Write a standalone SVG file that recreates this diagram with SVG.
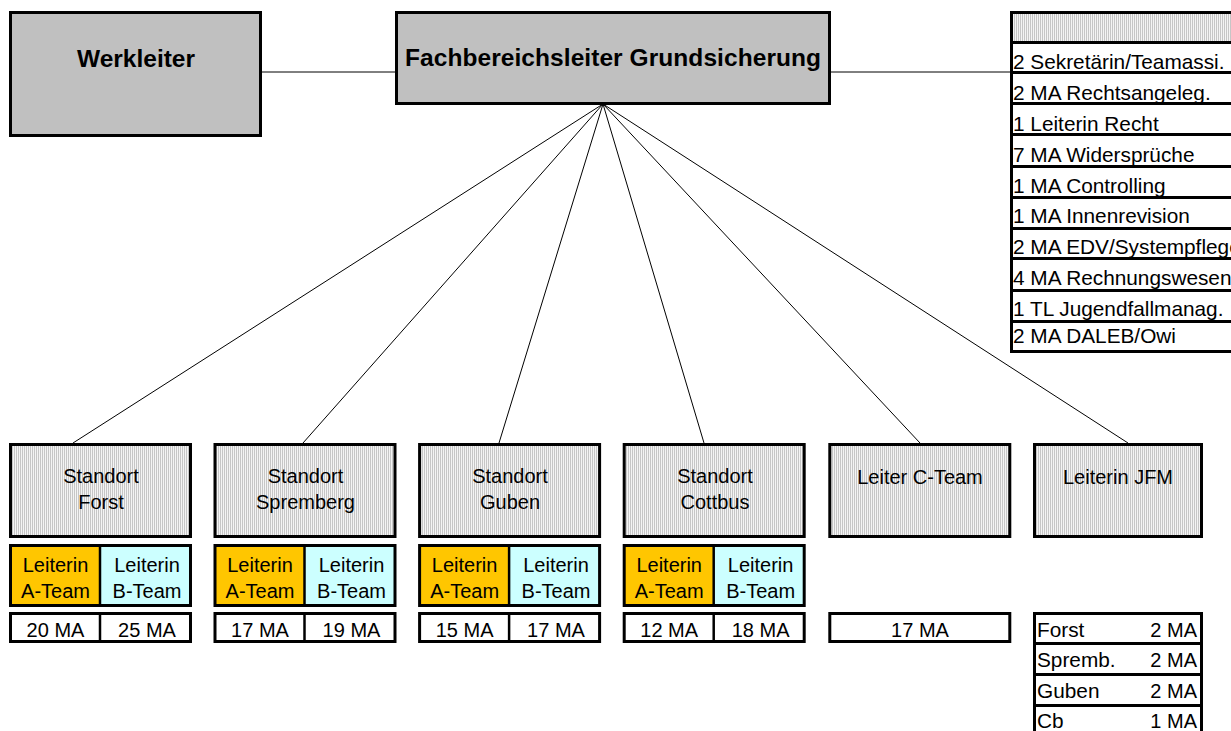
<svg xmlns="http://www.w3.org/2000/svg" width="1231" height="731" viewBox="0 0 1231 731">
<defs>
<pattern id="hatch" width="2" height="2" patternUnits="userSpaceOnUse">
<rect width="2" height="2" fill="#f4f4f4"/>
<rect width="1" height="2" fill="#c6c6c6"/>
</pattern>
<style>
.box{stroke:#000;stroke-width:3;}
.grey{fill:#c0c0c0;}
.hat{fill:url(#hatch);}
.wh{fill:#fff;}
.a{fill:#ffc600;}
.b{fill:#ccffff;}
.div{stroke:#000;stroke-width:2.5;}
.con{stroke:#000;stroke-width:1;fill:none;}
text{font-family:"Liberation Sans",Arial,sans-serif;fill:#000;}
.big{font-size:24.5px;font-weight:bold;text-anchor:middle;}
.m{font-size:20px;text-anchor:middle;}
.l{font-size:20.8px;}
.r{font-size:20px;text-anchor:end;}
</style>
</defs>
<rect width="1231" height="731" fill="#fff"/>

<g id="connectors">
<line class="con" x1="261" y1="72" x2="395" y2="72"/>
<line class="con" x1="830" y1="72" x2="1010" y2="72"/>
<line class="con" x1="603" y1="104" x2="73" y2="443"/>
<line class="con" x1="603" y1="104" x2="303" y2="443"/>
<line class="con" x1="603" y1="104" x2="499" y2="443"/>
<line class="con" x1="603" y1="104" x2="704" y2="443"/>
<line class="con" x1="603" y1="104" x2="920" y2="443"/>
<line class="con" x1="603" y1="104" x2="1128" y2="443"/>
</g>

<g id="werkleiter">
<rect class="box grey" x="10.5" y="12.5" width="250" height="123"/>
<text class="big" x="136" y="67">Werkleiter</text>
</g>

<g id="fachbereichsleiter">
<rect class="box grey" x="396.5" y="12.5" width="433" height="91"/>
<text class="big" x="613" y="66" textLength="416" lengthAdjust="spacing">Fachbereichsleiter Grundsicherung</text>
</g>

<g id="stab">
<rect class="box hat" x="1011.5" y="12.5" width="240" height="30"/>
<rect class="box wh" x="1011.5" y="42.5" width="240" height="30"/>
<rect class="box wh" x="1011.5" y="72.5" width="240" height="31"/>
<rect class="box wh" x="1011.5" y="103.5" width="240" height="31"/>
<rect class="box wh" x="1011.5" y="134.5" width="240" height="32"/>
<rect class="box wh" x="1011.5" y="166.5" width="240" height="31"/>
<rect class="box wh" x="1011.5" y="197.5" width="240" height="31"/>
<rect class="box wh" x="1011.5" y="228.5" width="240" height="30"/>
<rect class="box wh" x="1011.5" y="258.5" width="240" height="32"/>
<rect class="box wh" x="1011.5" y="290.5" width="240" height="31"/>
<rect class="box wh" x="1011.5" y="321.5" width="240" height="30"/>
<text class="l" x="1013" y="69">2 Sekretärin/Teamassi.</text>
<text class="l" x="1013" y="100">2 MA Rechtsangeleg.</text>
<text class="l" x="1013" y="131">1 Leiterin Recht</text>
<text class="l" x="1013" y="162">7 MA Widersprüche</text>
<text class="l" x="1013" y="193">1 MA Controlling</text>
<text class="l" x="1013" y="223">1 MA Innenrevision</text>
<text class="l" x="1013" y="254">2 MA EDV/Systempflege</text>
<text class="l" x="1013" y="285">4 MA Rechnungswesen</text>
<text class="l" x="1013" y="316">1 TL Jugendfallmanag.</text>
<text class="l" x="1013" y="343">2 MA DALEB/Owi</text>
</g>

<g id="standort-forst">
<rect class="box hat" x="10.5" y="444.5" width="180" height="92"/>
<text class="m" x="101" y="483">Standort</text>
<text class="m" x="101" y="509">Forst</text>
<rect class="a" x="10.5" y="545.5" width="90" height="60"/>
<rect class="b" x="100.5" y="545.5" width="90" height="60"/>
<rect class="box" fill="none" x="10.5" y="545.5" width="180" height="60"/>
<line class="div" x1="100" y1="545" x2="100" y2="606"/>
<text class="m" x="55.5" y="572">Leiterin</text>
<text class="m" x="55.5" y="598">A-Team</text>
<text class="m" x="147" y="572">Leiterin</text>
<text class="m" x="147" y="598">B-Team</text>
<rect class="box wh" x="10.5" y="613.5" width="180" height="28"/>
<line class="div" x1="100" y1="613" x2="100" y2="642"/>
<text class="m" x="55.5" y="637">20 MA</text>
<text class="m" x="147" y="637">25 MA</text>
</g>

<g id="standort-spremberg">
<rect class="box hat" x="215" y="444.5" width="180" height="92"/>
<text class="m" x="305.5" y="483">Standort</text>
<text class="m" x="305.5" y="509">Spremberg</text>
<rect class="a" x="215" y="545.5" width="90" height="60"/>
<rect class="b" x="305" y="545.5" width="90" height="60"/>
<rect class="box" fill="none" x="215" y="545.5" width="180" height="60"/>
<line class="div" x1="304.5" y1="545" x2="304.5" y2="606"/>
<text class="m" x="260" y="572">Leiterin</text>
<text class="m" x="260" y="598">A-Team</text>
<text class="m" x="351.5" y="572">Leiterin</text>
<text class="m" x="351.5" y="598">B-Team</text>
<rect class="box wh" x="215" y="613.5" width="180" height="28"/>
<line class="div" x1="304.5" y1="613" x2="304.5" y2="642"/>
<text class="m" x="260" y="637">17 MA</text>
<text class="m" x="351.5" y="637">19 MA</text>
</g>

<g id="standort-guben">
<rect class="box hat" x="419.6" y="444.5" width="180" height="92"/>
<text class="m" x="510" y="483">Standort</text>
<text class="m" x="510" y="509">Guben</text>
<rect class="a" x="419.6" y="545.5" width="90" height="60"/>
<rect class="b" x="509.6" y="545.5" width="90" height="60"/>
<rect class="box" fill="none" x="419.6" y="545.5" width="180" height="60"/>
<line class="div" x1="509.1" y1="545" x2="509.1" y2="606"/>
<text class="m" x="464.6" y="572">Leiterin</text>
<text class="m" x="464.6" y="598">A-Team</text>
<text class="m" x="556" y="572">Leiterin</text>
<text class="m" x="556" y="598">B-Team</text>
<rect class="box wh" x="419.6" y="613.5" width="180" height="28"/>
<line class="div" x1="509.1" y1="613" x2="509.1" y2="642"/>
<text class="m" x="464.6" y="637">15 MA</text>
<text class="m" x="556" y="637">17 MA</text>
</g>

<g id="standort-cottbus">
<rect class="box hat" x="624.2" y="444.5" width="180" height="92"/>
<text class="m" x="715" y="483">Standort</text>
<text class="m" x="715" y="509">Cottbus</text>
<rect class="a" x="624.2" y="545.5" width="90" height="60"/>
<rect class="b" x="714.2" y="545.5" width="90" height="60"/>
<rect class="box" fill="none" x="624.2" y="545.5" width="180" height="60"/>
<line class="div" x1="713.7" y1="545" x2="713.7" y2="606"/>
<text class="m" x="669.2" y="572">Leiterin</text>
<text class="m" x="669.2" y="598">A-Team</text>
<text class="m" x="760.6" y="572">Leiterin</text>
<text class="m" x="760.6" y="598">B-Team</text>
<rect class="box wh" x="624.2" y="613.5" width="180" height="28"/>
<line class="div" x1="713.7" y1="613" x2="713.7" y2="642"/>
<text class="m" x="669.2" y="637">12 MA</text>
<text class="m" x="760.6" y="637">18 MA</text>
</g>

<g id="leiter-c-team">
<rect class="box hat" x="829.8" y="444.5" width="180" height="92"/>
<text class="m" x="920" y="484">Leiter C-Team</text>
<rect class="box wh" x="829.8" y="613.5" width="180" height="28"/>
<text class="m" x="920" y="637">17 MA</text>
</g>

<g id="leiterin-jfm">
<rect class="box hat" x="1034.5" y="444.5" width="167" height="92"/>
<text class="m" x="1118" y="484">Leiterin JFM</text>
<rect class="box wh" x="1034.5" y="613.5" width="167" height="30"/>
<rect class="box wh" x="1034.5" y="643.5" width="167" height="31"/>
<rect class="box wh" x="1034.5" y="674.5" width="167" height="31"/>
<rect class="box wh" x="1034.5" y="705.5" width="167" height="40"/>
<text class="l" x="1037" y="637">Forst</text>
<text class="r" x="1197" y="637">2 MA</text>
<text class="l" x="1037" y="667">Spremb.</text>
<text class="r" x="1197" y="667">2 MA</text>
<text class="l" x="1037" y="698">Guben</text>
<text class="r" x="1197" y="698">2 MA</text>
<text class="l" x="1037" y="728">Cb</text>
<text class="r" x="1197" y="728">1 MA</text>
</g>
</svg>
